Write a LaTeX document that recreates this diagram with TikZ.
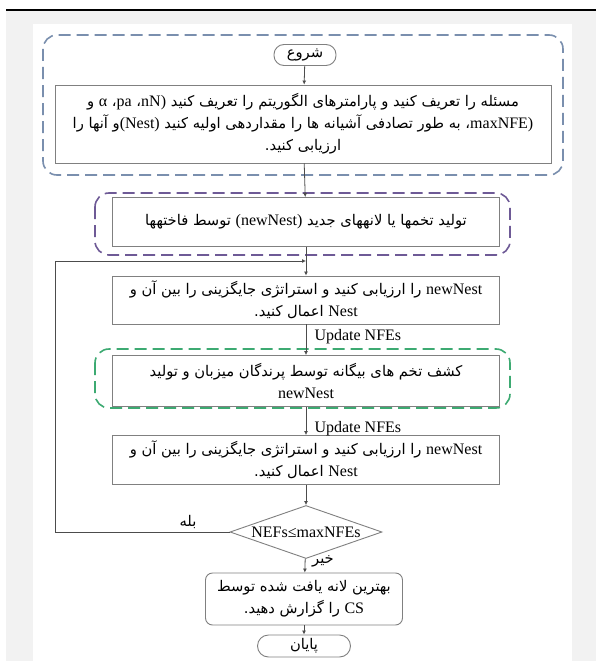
\documentclass[tikz,border=0pt]{standalone}
\usepackage{fontspec}
\usepackage{tikz}
\usetikzlibrary{shapes.geometric,arrows.meta}
\setmainfont{Liberation Serif}
\newfontfamily\persfont[Script=Arabic,Scale=0.92]{DejaVu Sans}
\TeXXeTstate=1
\newcommand{\fa}[1]{{\persfont\beginR #1\endR}}
\newcommand{\en}[1]{\beginL{\rmfamily #1}\endL}

\begin{document}
\begin{tikzpicture}[x = 1pt,
                    y = -1pt,
                    font = \fontsize{16}{22}\selectfont]


  % PAGE
  \definecolor{pagegray_cs}{rgb}{ 0.949,0.949,0.949 }
  \fill[white] (0, 0) rectangle (596, 661);
  \fill[pagegray_cs] (6, 10) rectangle (596, 661);
  \fill[white] (33, 24) rectangle (572, 661);
  \draw[line width=2pt] (6, 10) -- (596, 10);


  % COLORS
  \definecolor{edgecolor_cs}{rgb}{ 0.5,0.5,0.5 }
  \definecolor{linecolor_cs}{rgb}{ 0.3,0.3,0.3 }
  \definecolor{bluegroup_cs}{rgb}{ 0.478,0.561,0.682 }
  \definecolor{purplegroup_cs}{rgb}{ 0.431,0.353,0.588 }
  \definecolor{greengroup_cs}{rgb}{ 0.239,0.667,0.447 }


  % STYLES
  \tikzstyle{groupstyle_cs} = [line width=1.6pt, dash pattern=on 12pt off 6pt, rounded corners=14pt]
  \tikzstyle{stepbox_cs} = [draw=edgecolor_cs, fill=white, line width=0.9pt, align=center, inner sep=0pt]
  \tikzstyle{termbox_cs} = [stepbox_cs, rounded corners=10pt]
  \tikzstyle{linkstyle_cs} = [draw=linecolor_cs, line width=0.8pt, -{Latex[length=4pt,width=4pt]}]


  % GROUPS
  \draw[groupstyle_cs, draw=bluegroup_cs] (43, 35) rectangle (563, 175);
  \draw[groupstyle_cs, draw=purplegroup_cs] (95, 193) rectangle (510, 255);
  \draw[groupstyle_cs, draw=greengroup_cs] (95, 349) rectangle (510, 408);


  % NODES
  \node[termbox_cs, minimum width=62, minimum height=21] (start) at (305, 55) {\fa{شروع}};
  \node[stepbox_cs, minimum width=496, minimum height=78] (define) at (303, 124)
    {\fa{مسئله را تعریف کنید و پارامترهای الگوریتم را تعریف کنید \en{nN)}، \en{pa}، \en{α} و}\\
     \fa{\en{maxNFE)}، به طور تصادفی آشیانه ها را مقداردهی اولیه کنید \en{(Nest)}و آنها را}\\
     \fa{ارزیابی کنید.}};
  \node[stepbox_cs, minimum width=387, minimum height=49] (levy) at (306, 222)
    {\fa{تولید تخمها یا لانههای جدید \en{(newNest)} توسط فاختهها}};
  \node[stepbox_cs, minimum width=387, minimum height=48] (evalA) at (306, 300)
    {\fa{\en{newNest} را ارزیابی کنید و استراتژی جایگزینی را بین آن و}\\
     \fa{\en{Nest} اعمال کنید.}};
  \node[stepbox_cs, minimum width=387, minimum height=51] (alien) at (306, 381)
    {\fa{کشف تخم های بیگانه توسط پرندگان میزبان و تولید}\\
     \en{newNest}};
  \node[stepbox_cs, minimum width=387, minimum height=49] (evalB) at (306, 460)
    {\fa{\en{newNest} را ارزیابی کنید و استراتژی جایگزینی را بین آن و}\\
     \fa{\en{Nest} اعمال کنید.}};
  \node[stepbox_cs, shape=diamond, aspect=2.9, minimum width=152, minimum height=53] (check) at (306, 532)
    {NEFs≤maxNFEs};
  \node[termbox_cs, rounded corners=7pt, minimum width=197, minimum height=52] (report) at (304, 599)
    {\fa{بهترین لانه یافت شده توسط}\\
     \fa{\en{CS} را گزارش دهید.}};
  \node[termbox_cs, rounded corners=11pt, minimum width=93, minimum height=22] (stop) at (304, 646) {\fa{پایان}};

  \coordinate (turn_cs) at (55, 532);
  \coordinate (join_cs) at (306, 261);


  % LINKS
  \draw[linkstyle_cs] (start) -- (define);
  \draw[linkstyle_cs] (define) -- (levy);
  \draw[linkstyle_cs] (levy) -- (evalA);
  \draw[linkstyle_cs] (evalA) -- (alien);
  \draw[linkstyle_cs] (alien) -- (evalB);
  \draw[linkstyle_cs] (evalB) -- (check);
  \draw[linkstyle_cs] (check) -- (report);
  \draw[linkstyle_cs] (report) -- (stop);
  \draw[linkstyle_cs] (check.west) -- (turn_cs) |- (join_cs);


  % LABELS
  \node[anchor=west] (upd_a) at (311, 337) {Update NFEs};
  \node[anchor=west] (upd_b) at (311, 429) {Update NFEs};
  \node (yes_cs) at (188, 522) {\fa{بله}};
  \node (no_cs) at (323, 561) {\fa{خیر}};

\end{tikzpicture}
\end{document}
